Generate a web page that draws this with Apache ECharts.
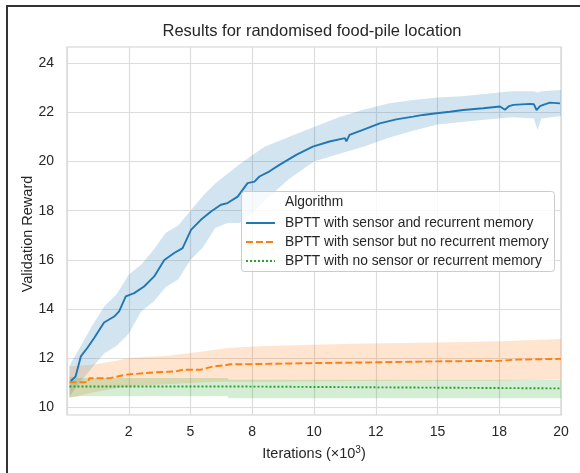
<!DOCTYPE html>
<html>
<head>
<meta charset="utf-8">
<script src="https://cdn.jsdelivr.net/npm/echarts@6/dist/echarts.min.js"></script>
<style>html,body{margin:0;padding:0;background:#fff;}#c{width:580px;height:473px;}</style>
</head>
<body>
<div id="c"></div>
<script>
// ---- data (x in thousands of iterations) ----
const seriesNames = [
  'BPTT with sensor and recurrent memory',
  'BPTT with sensor but no recurrent memory',
  'BPTT with no sensor or recurrent memory'
];
const xTickLabels = ['', '2', '5', '8', '10', '12', '15', '18', '20'];
const yTickValues = [10, 12, 14, 16, 18, 20, 22, 24];

const blueX = [0.15,0.35,0.56,0.82,1.10,1.50,1.91,2.11,2.38,2.72,3.12,3.53,3.94,4.34,4.68,5.02,5.42,5.83,6.23,6.50,6.91,7.31,7.59,7.79,8.20,8.60,9.28,9.95,10.63,11.25,11.31,11.44,11.98,12.66,13.33,14.01,14.41,14.96,15.5,16.04,16.85,17.53,17.73,17.9,18.07,18.74,18.9,19.01,19.15,19.28,19.55,19.96];
const blueMean = [11.07,11.27,12.08,12.42,12.83,13.46,13.70,13.91,14.52,14.65,14.92,15.33,16.0,16.28,16.48,17.22,17.63,17.97,18.24,18.31,18.57,19.12,19.18,19.39,19.6,19.86,20.27,20.60,20.81,20.95,20.82,21.08,21.28,21.55,21.71,21.82,21.89,21.96,22.02,22.09,22.16,22.23,22.10,22.25,22.30,22.34,22.33,22.09,22.25,22.30,22.39,22.36];
const blueBandX = [0.1,0.5,1,1.5,2,2.5,3,3.5,4,4.5,5,5.5,6,6.5,7,7.5,8,9,10,11,12,13,14,15,16,17,18,18.9,19.05,19.2,20];
const blueLow  = [10.45,11.0,11.6,12.2,12.5,13.0,13.9,14.3,14.9,15.2,16.0,16.5,17.3,17.5,17.5,17.9,18.4,19.3,20.0,20.3,20.6,20.95,21.25,21.5,21.6,21.7,21.8,21.75,21.28,21.75,21.85];
const blueHigh = [11.7,12.4,13.3,14.1,14.6,15.4,15.8,16.4,17.1,17.4,18.0,18.6,19.1,19.5,19.9,20.25,20.6,21.0,21.4,21.8,22.1,22.35,22.5,22.6,22.65,22.75,22.85,22.85,22.8,22.85,22.9];

const orangeX = [0.1,0.85,0.9,1.7,2.4,3.5,4.4,4.7,5.4,5.9,6.4,6.6,7.7,10,12.5,15,17.5,18.2,20];
const orangeMean = [11.03,11.03,11.19,11.19,11.34,11.43,11.47,11.54,11.54,11.67,11.72,11.76,11.77,11.81,11.84,11.88,11.90,11.95,11.98];
const orangeBandX = [0.1,1,2,2.5,3,4,5,6,6.5,7,8,10,12,15,17.5,20];
const orangeLow  = [10.39,10.6,10.8,10.85,10.9,10.95,11.0,11.05,11.05,11.05,11.05,11.07,11.08,11.1,11.1,11.15];
const orangeHigh = [11.67,11.74,11.9,12.02,12.05,12.1,12.22,12.35,12.42,12.45,12.5,12.55,12.6,12.65,12.7,12.79];

const greenX = [0.1,6.5,6.55,20];
const greenMean = [10.86,10.86,10.78,10.78];
const greenBandX = [0.1,0.5,1,3,6.5,6.55,10,15,20];
const greenLow  = [10.42,10.46,10.46,10.46,10.46,10.38,10.38,10.38,10.38];
const greenHigh = [11.25,11.2,11.2,11.2,11.2,11.13,11.13,11.13,11.13];

// ---- build ----
const colors = ['#1f77b4', '#ff7f0e', '#2ca02c'];
const FONT = '"Liberation Sans", Arial, sans-serif';
const pairs = (xs, ys) => xs.map((x, i) => [x, ys[i]]);

function band(xs, lo, hi, color) {
  return {
    type: 'custom', data: [[xs[0], lo[0]]], silent: true, z: 1, clip: true,
    renderItem: (params, api) => {
      const up = xs.map((x, i) => api.coord([x, hi[i]]));
      const dn = xs.map((x, i) => api.coord([x, lo[i]])).reverse();
      return { type: 'polygon', shape: { points: up.concat(dn) },
        style: { fill: color, opacity: 0.2 } };
    }
  };
}

const series = [
  band(blueBandX, blueLow, blueHigh, colors[0]),
  band(orangeBandX, orangeLow, orangeHigh, colors[1]),
  band(greenBandX, greenLow, greenHigh, colors[2]),
  { type: 'line', name: seriesNames[0], data: pairs(blueX, blueMean), symbol: 'none', z: 3,
    lineStyle: { color: colors[0], width: 1.9 }, itemStyle: { color: colors[0] } },
  { type: 'line', name: seriesNames[1], data: pairs(orangeX, orangeMean), symbol: 'none', z: 3,
    lineStyle: { color: colors[1], width: 1.9, type: [7, 3] }, itemStyle: { color: colors[1] } },
  { type: 'line', name: seriesNames[2], data: pairs(greenX, greenMean), symbol: 'none', z: 3,
    lineStyle: { color: colors[2], width: 1.9, type: [2, 2] }, itemStyle: { color: colors[2] } }
];

const chart = echarts.init(document.getElementById('c'), null, { renderer: 'canvas' });
chart.setOption({
  animation: false,
  backgroundColor: '#fff',
  textStyle: { fontFamily: FONT },
  title: {
    text: 'Results for randomised food-pile location',
    left: 307, top: 18, textAlign: 'center',
    textStyle: { fontFamily: FONT, fontSize: 16.5, fontWeight: 'normal', color: '#262626' }
  },
  grid: { left: 67, right: 19, top: 47, bottom: 58, show: true, borderColor: '#cfcfcf', borderWidth: 1.2, backgroundColor: 'transparent' },
  xAxis: {
    type: 'value', min: 0, max: 20, interval: 2.5,
    name: '{a|Iterations (×10}{s|3}{a|)}',
    nameLocation: 'middle', nameGap: 30,
    nameTextStyle: { rich: {
      a: { fontFamily: FONT, fontSize: 14.5, color: '#262626' },
      s: { fontFamily: FONT, fontSize: 10, color: '#262626', verticalAlign: 'top', padding: [0, 0, 8, 0] }
    } },
    axisLine: { show: false }, axisTick: { show: false },
    axisLabel: { margin: 10, fontFamily: FONT, fontSize: 14, color: '#262626',
      formatter: v => xTickLabels[Math.round(v / 2.5)] },
    splitLine: { show: true, lineStyle: { color: '#dcdcdc', width: 1.2 } }
  },
  yAxis: {
    type: 'value', min: 9.7, max: 24.65,
    axisLine: { show: false },
    axisTick: { show: false, customValues: yTickValues },
    axisLabel: { margin: 13, fontFamily: FONT, fontSize: 14, color: '#262626', customValues: yTickValues },
    splitLine: { show: true, lineStyle: { color: '#dcdcdc', width: 1.2 } }
  },
  legend: {
    data: seriesNames, orient: 'vertical', left: 241, top: 216,
    itemWidth: 29, itemHeight: 10, itemGap: 5, padding: [0, 0, 0, 4],
    itemStyle: { opacity: 0 },
    textStyle: { fontFamily: FONT, fontSize: 13.8, color: '#262626', padding: [0, 0, 0, 5] },
    z: 20, selectedMode: false
  },
  graphic: [
    { type: 'rect', shape: { x: 241.5, y: 191.5, width: 313, height: 80, r: 3 },
      style: { fill: 'rgba(255,255,255,0.8)', stroke: '#cccccc', lineWidth: 1 }, z: 15 },
    { type: 'text', left: 285, top: 195, z: 16,
      style: { text: 'Algorithm', font: '13.8px ' + FONT, fill: '#262626' } },
    { type: 'text', x: 28, y: 234, rotation: Math.PI / 2, z: 16,
      style: { text: 'Validation Reward', font: '14.5px ' + FONT, fill: '#262626', align: 'center', verticalAlign: 'middle' } },
    { type: 'polyline', shape: { points: [[7, 473], [7, 6], [580, 6]] },
      style: { stroke: '#333333', lineWidth: 2, fill: null }, z: 30 }
  ],
  series: series
});
</script>
</body>
</html>
